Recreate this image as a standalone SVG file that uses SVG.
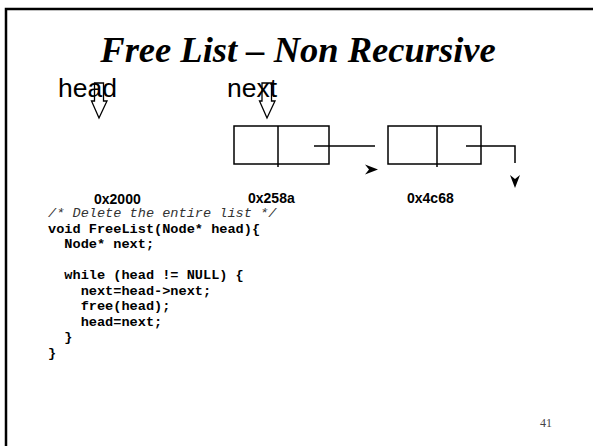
<svg xmlns="http://www.w3.org/2000/svg" width="593" height="446" viewBox="0 0 593 446">
<style>
.frame{fill:none;stroke:#000;stroke-width:2.5}
.title{font-family:"Liberation Serif",serif;font-weight:bold;font-style:italic;font-size:36.5px;fill:#000}
.lbl{font-family:"Liberation Sans",Arial,sans-serif;font-size:26.5px;fill:#000}
.addr{font-family:"Liberation Sans",Arial,sans-serif;font-weight:bold;font-size:14px;fill:#000}
.code{font-family:"Liberation Mono","Courier New",monospace;font-weight:bold;font-size:13.6px;fill:#000;white-space:pre}
.cmt{font-family:"Liberation Mono","Courier New",monospace;font-style:italic;font-size:13.6px;fill:#333;white-space:pre}
.box{fill:none;stroke:#000;stroke-width:1.5}
.ptr{fill:none;stroke:#000;stroke-width:1.3}
.link{fill:none;stroke:#000;stroke-width:1.5}
.head{fill:#000;stroke:none}
.pg{font-family:"Liberation Serif",serif;font-size:12px;fill:#444}
</style>
<rect class="frame" x="6" y="9" width="600" height="450"/>
<text class="title" x="298" y="62" text-anchor="middle">Free List – Non Recursive</text>
<g id="head-label">
<text class="lbl" x="58" y="97">head</text>
<path class="ptr" d="M94.5,83 H103.5 V101 H107 L99,118 L91.5,101 H94.5 Z"/>
</g>
<g id="next-label">
<text class="lbl" x="227" y="97">next</text>
<path class="ptr" d="M262,83 H271.5 V101 H275 L267,118 L259.5,101 H262 Z"/>
</g>
<g id="node1">
<rect class="box" x="234" y="126" width="95" height="38"/>
<line class="box" x1="278" y1="126" x2="278" y2="167"/>
<text class="addr" x="248" y="203">0x258a</text>
</g>
<g id="node2">
<rect class="box" x="388" y="126" width="93" height="38"/>
<line class="box" x1="437" y1="126" x2="437" y2="167"/>
<text class="addr" x="407" y="203">0x4c68</text>
</g>
<g id="node0">
<text class="addr" x="94" y="204">0x2000</text>
</g>
<g id="connectors">
<polyline class="link" points="314,146 375,146"/>
<polygon class="head" points="378,169.5 365,164.5 369,169.5 365,174.5"/>
<polyline class="link" points="466,146 515,146 515,163"/>
<polygon class="head" points="515,188 510,175 515,179 520,175"/>
</g>
<g id="code">
<text class="cmt" x="48" y="217">/* Delete the entire list */</text>
<text class="code" x="48" y="232.5">void FreeList(Node* head){</text>
<text class="code" x="48" y="248">  Node* next;</text>
<text class="code" x="48" y="279">  while (head != NULL) {</text>
<text class="code" x="48" y="294.5">    next=head-&gt;next;</text>
<text class="code" x="48" y="310">    free(head);</text>
<text class="code" x="48" y="325.5">    head=next;</text>
<text class="code" x="48" y="341">  }</text>
<text class="code" x="48" y="356.5">}</text>
</g>
<text class="pg" x="540" y="427">41</text>
</svg>
